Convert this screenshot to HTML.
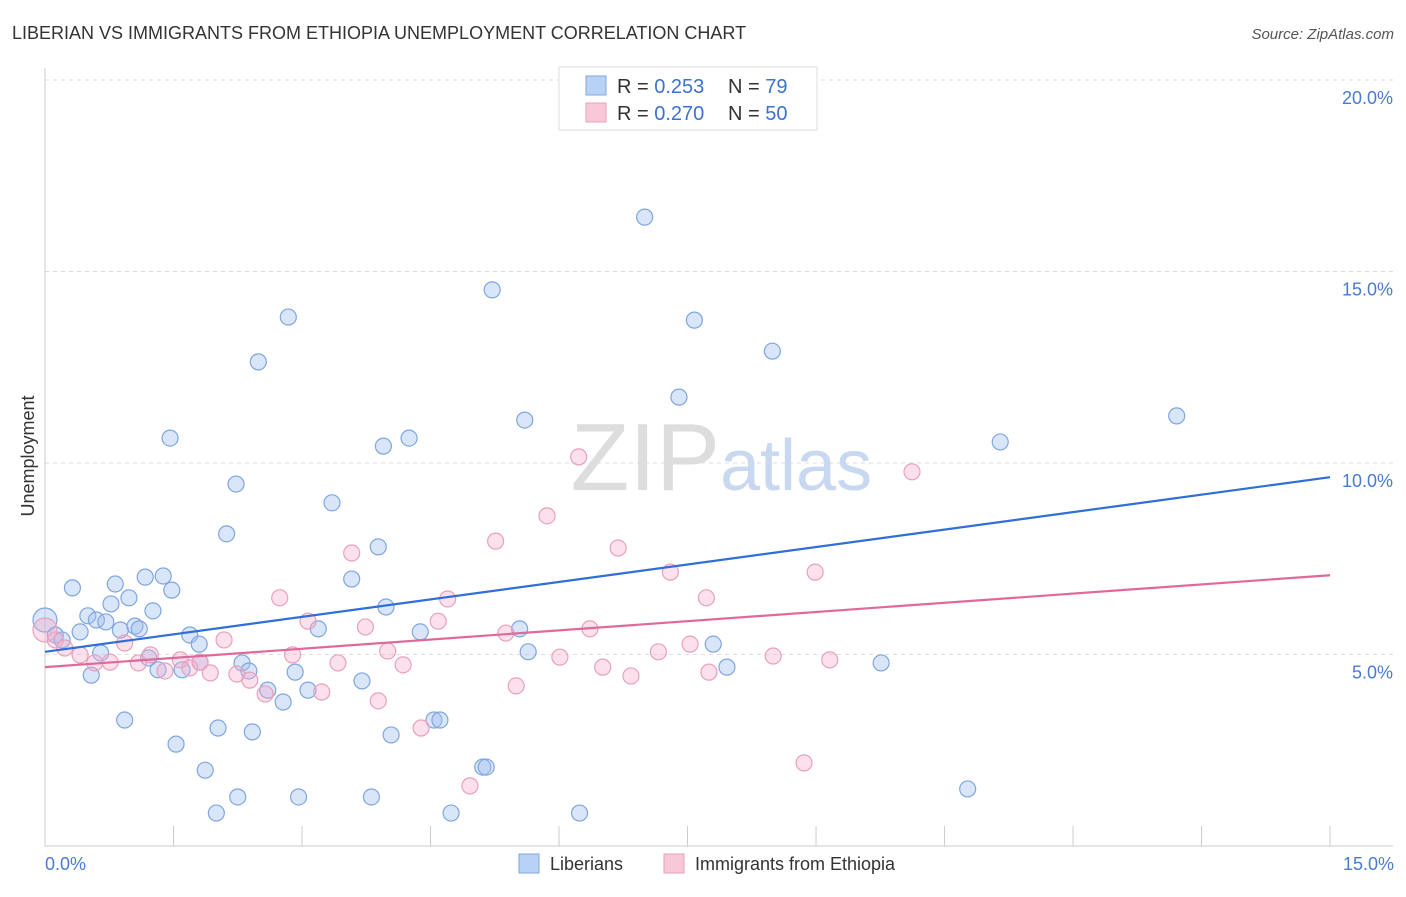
<!DOCTYPE html>
<html><head><meta charset="utf-8"><style>
body{margin:0;background:#fff;font-family:"Liberation Sans",sans-serif;}
svg text{font-family:"Liberation Sans",sans-serif;}
</style></head><body>
<svg width="1406" height="892">
<text x="12" y="39" font-size="18" fill="#333">LIBERIAN VS IMMIGRANTS FROM ETHIOPIA UNEMPLOYMENT CORRELATION CHART</text>
<text x="1394" y="39" font-size="15" fill="#555" text-anchor="end" font-style="italic">Source: ZipAtlas.com</text>
<text x="720" y="490" font-size="96" fill="#ddd" text-anchor="end" font-family="Liberation Serif">ZIP</text>
<text x="720" y="490" font-size="72" fill="#c8d8f0">atlas</text>
<g id="grid"></g>
<g id="axes"></g>
<g id="pts"></g>
<g id="trend"></g>
<text x="34" y="456" font-size="18" fill="#333" text-anchor="middle" transform="rotate(-90 34 456)">Unemployment</text>
<text x="45" y="870" font-size="18" fill="#4a7bd0">0.0%</text>
<text x="1394" y="870" font-size="18" fill="#4a7bd0" text-anchor="end">15.0%</text>
<g>
<rect x="559" y="67" width="258" height="63" fill="#fff" stroke="#ddd"/>
<rect x="586" y="76" width="20" height="19" fill="#b8d2f5" stroke="#7fa6e0"/>
<rect x="586" y="103" width="20" height="19" fill="#f9c8d8" stroke="#e8a0bc"/>
<text x="617" y="93" font-size="20" fill="#333">R = <tspan fill="#3a72d0">0.253</tspan></text>
<text x="728" y="93" font-size="20" fill="#333">N = <tspan fill="#3a72d0">79</tspan></text>
<text x="617" y="120" font-size="20" fill="#333">R = <tspan fill="#3a72d0">0.270</tspan></text>
<text x="728" y="120" font-size="20" fill="#333">N = <tspan fill="#3a72d0">50</tspan></text>
</g>
<g>
<rect x="519" y="854" width="20" height="19" fill="#b8d2f5" stroke="#7fa6e0"/>
<text x="550" y="870" font-size="18" fill="#333">Liberians</text>
<rect x="664" y="854" width="20" height="19" fill="#f9c8d8" stroke="#e8a0bc"/>
<text x="695" y="870" font-size="18" fill="#333">Immigrants from Ethiopia</text>
</g>
</svg>
<script>
const yTicks=[5,10,15,20];
const blueX=[0,0.12,0.20,0.32,0.41,0.50,0.54,0.60,0.65,0.71,0.77,0.82,0.88,0.93,0.98,1.05,1.10,1.17,1.21,1.26,1.32,1.38,1.46,1.48,1.53,1.60,1.69,1.80,1.81,1.87,2.00,2.02,2.12,2.23,2.25,2.30,2.38,2.42,2.49,2.60,2.78,2.84,2.92,2.96,3.07,3.19,3.35,3.58,3.70,3.81,3.89,3.95,3.98,4.04,4.25,4.38,4.54,4.61,4.74,5.11,5.15,5.22,5.54,5.60,5.64,6.24,7.00,7.40,7.58,7.80,7.96,8.49,9.76,10.77,11.15,13.21];
const blueY=[5.90,5.51,5.38,6.74,5.59,6.01,4.46,5.90,5.04,5.85,6.32,6.84,5.64,3.29,6.48,5.74,5.67,7.02,4.91,6.14,4.60,7.05,10.65,6.68,2.66,4.60,5.51,5.27,4.80,1.98,0.86,3.08,8.15,9.45,1.28,4.78,4.57,2.98,12.64,4.07,3.76,13.81,4.54,1.28,4.07,5.67,8.96,6.97,4.31,1.28,7.81,10.44,6.24,2.90,10.65,5.59,3.29,3.29,0.86,2.06,2.06,14.52,5.67,11.12,5.07,0.86,16.42,11.72,13.73,5.27,4.67,12.92,4.78,1.49,10.55,11.23];
const pinkX=[0,0.12,0.23,0.41,0.58,0.76,0.93,1.09,1.23,1.40,1.58,1.69,1.81,1.93,2.09,2.24,2.39,2.57,2.74,2.89,3.07,3.23,3.42,3.58,3.74,3.89,4.00,4.18,4.39,4.59,4.70,4.96,5.26,5.38,5.50,5.86,6.01,6.23,6.36,6.51,6.69,6.84,7.16,7.30,7.53,7.72,7.75,8.50,8.86,8.99,9.16,10.12];
const pinkY=[5.64,5.38,5.17,4.99,4.78,4.80,5.30,4.78,4.99,4.57,4.86,4.65,4.80,4.52,5.38,4.49,4.33,3.97,6.48,4.99,5.87,4.02,4.78,7.65,5.72,3.79,5.09,4.73,3.08,5.87,6.45,1.57,7.96,5.56,4.18,8.62,4.93,10.16,5.67,4.67,7.78,4.44,5.07,7.15,5.27,6.48,4.54,4.96,2.17,7.15,4.86,9.77];
const blueTrend=[5.07,9.63];
const pinkTrend=[4.67,7.07];
const NS="http://www.w3.org/2000/svg";
const X=v=>45+v*85.67, Y=v=>846-v*38.3;
function mk(p,t,a){const e=document.createElementNS(NS,t);for(const k in a)e.setAttribute(k,a[k]);document.getElementById(p).appendChild(e);return e;}
yTicks.forEach(t=>{
 const l=mk('grid','line',{x1:45,x2:1393,y1:Y(t),y2:Y(t),stroke:'#ddd','stroke-dasharray':'4,4'});
 
 
 const tx=mk('grid','text',{x:1393,y:Y(t)+24,'font-size':18,fill:'#4a7bd0','text-anchor':'end'});
 tx.textContent=t.toFixed(1)+'%';
 
 
});
const ax=mk('axes','line',{x1:45,x2:45,y1:68,y2:846,stroke:'#ccc'});


const bx=mk('axes','line',{x1:45,x2:1393,y1:846,y2:846,stroke:'#ccc'});


for(let i=1;i<=10;i++){const t=mk('axes','line',{x1:X(i*1.5),x2:X(i*1.5),y1:826,y2:846,stroke:'#ccc'});
 
 }
function pts(xs,ys,fill,stroke,name){xs.forEach((x,i)=>{
 const c=mk('pts','circle',{cx:X(x),cy:Y(ys[i]),r:i==0?12:8,fill:fill,stroke:stroke,'stroke-width':1.2});
 
 });}
pts(blueX,blueY,'rgba(160,190,240,0.4)','#7fa6e0','liberian-point');
pts(pinkX,pinkY,'rgba(245,170,200,0.35)','#e8a0bc','ethiopia-point');
const b=mk('trend','line',{x1:X(0),x2:X(15),y1:Y(blueTrend[0]),y2:Y(blueTrend[1]),stroke:'#2f6fd6','stroke-width':2.2});


const p=mk('trend','line',{x1:X(0),x2:X(15),y1:Y(pinkTrend[0]),y2:Y(pinkTrend[1]),stroke:'#e0689a','stroke-width':2.2});


</script>
</body></html>
